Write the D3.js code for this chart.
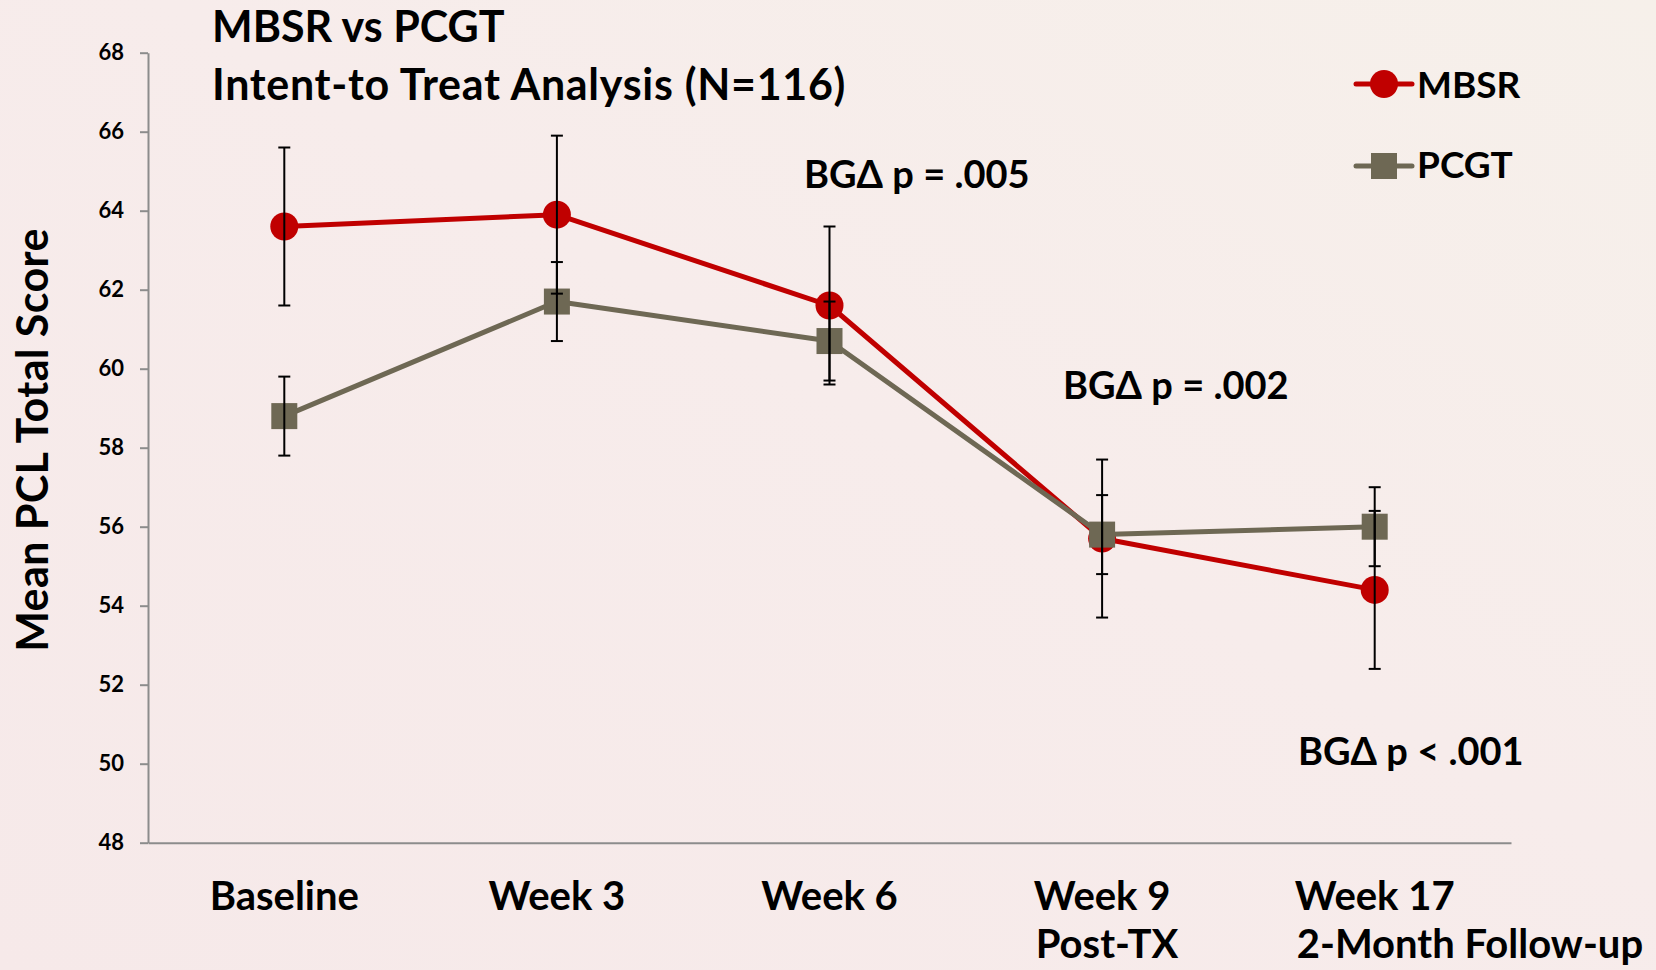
<!DOCTYPE html>
<html>
<head>
<meta charset="utf-8">
<script src="https://cdn.jsdelivr.net/npm/d3@7"></script>
<style>
  html, body { margin: 0; padding: 0; }
  body { width: 1656px; height: 970px; overflow: hidden; }
  svg { display: block; font-family: Lato, "Open Sans", sans-serif; font-weight: 700; }
</style>
</head>
<body>
<svg id="chart" width="1656" height="970"></svg>
<script>
// Time points and group means (PCL total score) with their error margins
const timepoints = ["Baseline", "Week 3", "Week 6", "Week 9", "Week 17"];
const timeSubLabels = ["", "", "", "Post-TX", "2-Month Follow-up"];
const mbsrMeans = [63.6, 63.9, 61.6, 55.7, 54.4];
const mbsrErr = [2.0, 2.0, 2.0, 2.0, 2.0];
const pcgtMeans = [58.8, 61.7, 60.7, 55.8, 56.0];
const pcgtErr = [1.0, 1.0, 1.0, 1.0, 1.0];
const yTicks = [48, 50, 52, 54, 56, 58, 60, 62, 64, 66, 68];
const seriesNames = ["MBSR", "PCGT"];
const pAnnotations = ["BGΔ p = .005", "BGΔ p = .002", "BGΔ p < .001"];

const svg = d3.select("#chart");
const W = 1656, H = 970;

// background wash
const defs = svg.append("defs");
const grad = defs.append("linearGradient").attr("id", "bg")
  .attr("x1", "0").attr("y1", "1").attr("x2", "1").attr("y2", "0");
grad.append("stop").attr("offset", "0").attr("stop-color", "#F6E9E9");
grad.append("stop").attr("offset", "0.55").attr("stop-color", "#F7ECEB");
grad.append("stop").attr("offset", "1").attr("stop-color", "#F6F0EA");
svg.append("rect").attr("width", W).attr("height", H).attr("fill", "url(#bg)");

const plot = { left: 148, right: 1511, top: 52.7, bottom: 842.7 };

const x = d3.scaleBand().domain(timepoints).range([plot.left, plot.right]);
const cx = d => x(d) + x.bandwidth() / 2;
const y = d3.scaleLinear().domain([48, 68]).range([plot.bottom, plot.top]);

// y axis
const yAxis = d3.axisLeft(y).tickValues(yTicks).tickSize(8).tickSizeOuter(0).tickPadding(16);
const gy = svg.append("g").attr("transform", `translate(${plot.left},0)`).call(yAxis);
gy.select(".domain").attr("stroke", "#8C8C8C").attr("stroke-width", 2);
gy.selectAll(".tick line").attr("stroke", "#8C8C8C").attr("stroke-width", 2);
gy.selectAll(".tick text").attr("fill", "#000").style("font-size", "22px")
  .style("font-family", "Lato, sans-serif").style("font-weight", 700);

// x axis baseline
const xAxis = d3.axisBottom(x).tickSize(0).tickFormat("");
const gx = svg.append("g").attr("transform", `translate(0,${plot.bottom})`).call(xAxis);
gx.select(".domain").attr("stroke", "#8C8C8C").attr("stroke-width", 2);

// category labels
const cat = svg.append("g").attr("font-size", 40).attr("fill", "#000");
timepoints.forEach((t, i) => {
  const main = cat.append("text").attr("x", cx(t)).attr("y", 910)
    .attr("text-anchor", "middle").text(t);
  if (timeSubLabels[i]) {
    const left = main.node().getBBox().x;
    cat.append("text").attr("x", left + 2).attr("y", 958).text(timeSubLabels[i]);
  }
});

// y axis title
svg.append("text")
  .attr("transform", "translate(48,440) rotate(-90)")
  .attr("text-anchor", "middle").attr("font-size", 43).attr("letter-spacing", 0.4)
  .text("Mean PCL Total Score");

// chart titles
svg.append("text").attr("x", 212).attr("y", 42).attr("font-size", 43).text("MBSR vs PCGT");
svg.append("text").attr("x", 212).attr("y", 100).attr("font-size", 43).attr("letter-spacing", 0.7)
  .text("Intent-to Treat Analysis (N=116)");

const red = "#C00000", olive = "#6E6854";
const line = d3.line().x((d, i) => cx(timepoints[i])).y(d => y(d));

// MBSR series
svg.append("path").datum(mbsrMeans).attr("d", line)
  .attr("fill", "none").attr("stroke", red).attr("stroke-width", 5).attr("stroke-linejoin", "round");
svg.append("g").selectAll("circle").data(mbsrMeans).join("circle")
  .attr("cx", (d, i) => cx(timepoints[i])).attr("cy", d => y(d)).attr("r", 14).attr("fill", red);

// PCGT series
svg.append("path").datum(pcgtMeans).attr("d", line)
  .attr("fill", "none").attr("stroke", olive).attr("stroke-width", 5).attr("stroke-linejoin", "round");
svg.append("g").selectAll("rect").data(pcgtMeans).join("rect")
  .attr("x", (d, i) => cx(timepoints[i]) - 13).attr("y", d => y(d) - 13)
  .attr("width", 26).attr("height", 26).attr("fill", olive);

// error bars
function errorBars(means, errs) {
  const g = svg.append("g").attr("stroke", "#000").attr("stroke-width", 2);
  means.forEach((m, i) => {
    const px = cx(timepoints[i]);
    const lo = y(m - errs[i]), hi = y(m + errs[i]);
    g.append("line").attr("x1", px).attr("x2", px).attr("y1", lo).attr("y2", hi);
    g.append("line").attr("x1", px - 6).attr("x2", px + 6).attr("y1", lo).attr("y2", lo);
    g.append("line").attr("x1", px - 6).attr("x2", px + 6).attr("y1", hi).attr("y2", hi);
  });
}
errorBars(mbsrMeans, mbsrErr);
errorBars(pcgtMeans, pcgtErr);

// significance notes
const notes = svg.append("g").attr("font-size", 38);
notes.append("text").attr("x", 804).attr("y", 188).text(pAnnotations[0]);
notes.append("text").attr("x", 1063).attr("y", 399).text(pAnnotations[1]);
notes.append("text").attr("x", 1298).attr("y", 765).text(pAnnotations[2]);

// legend
const lg = svg.append("g");
lg.append("line").attr("x1", 1356).attr("x2", 1412).attr("y1", 84).attr("y2", 84)
  .attr("stroke", red).attr("stroke-width", 5).attr("stroke-linecap", "round");
lg.append("circle").attr("cx", 1384).attr("cy", 84).attr("r", 14).attr("fill", red);
lg.append("text").attr("x", 1417).attr("y", 98).attr("font-size", 37).text(seriesNames[0]);
lg.append("line").attr("x1", 1356).attr("x2", 1412).attr("y1", 166).attr("y2", 166)
  .attr("stroke", olive).attr("stroke-width", 5).attr("stroke-linecap", "round");
lg.append("rect").attr("x", 1371).attr("y", 153).attr("width", 26).attr("height", 26).attr("fill", olive);
lg.append("text").attr("x", 1417).attr("y", 178).attr("font-size", 37).text(seriesNames[1]);
</script>
</body>
</html>
